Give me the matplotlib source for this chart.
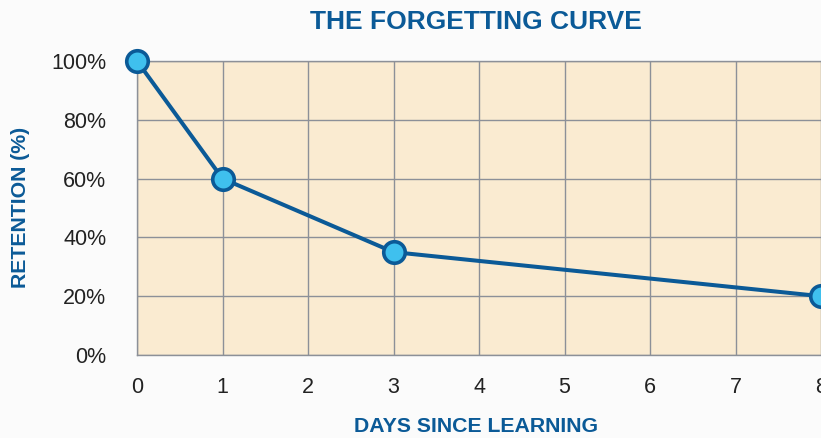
import matplotlib
matplotlib.use("Agg")
import matplotlib.pyplot as plt

days = [0, 1, 3, 8]
retention = [100, 60, 35, 20]
x_ticks = [0, 1, 2, 3, 4, 5, 6, 7, 8]
y_ticks = [0, 20, 40, 60, 80, 100]
y_labels = [f"{v}%" for v in y_ticks]

BLUE = "#0b5a97"
LIGHT = "#3fc0ee"
GRID = "#8c9098"

plt.rcParams["font.family"] = ["Liberation Sans", "DejaVu Sans"]

fig = plt.figure(figsize=(8.21, 4.38), dpi=100)
fig.patch.set_facecolor("#fbfbfb")
ax = fig.add_axes([137 / 821, 83 / 438, 1 - 137 / 821, 294 / 438])
ax.set_facecolor("#faebd1")

ax.plot(days, retention, color=BLUE, lw=2.9, marker="o", ms=15.5,
        mfc=LIGHT, mec=BLUE, mew=2.6, zorder=5, clip_on=False)

ax.set_xlim(0, 8)
ax.set_ylim(0, 100)
ax.set_xticks(x_ticks)
ax.set_yticks(y_ticks)
ax.set_yticklabels(y_labels)
ax.tick_params(length=0, labelsize=15.5, labelcolor="#222222")
ax.tick_params(axis="x", pad=16)
ax.tick_params(axis="y", pad=22)
ax.grid(True, color=GRID, lw=1.0)
ax.set_axisbelow(True)
for side in ["left", "top", "bottom"]:
    ax.spines[side].set_color(GRID)
    ax.spines[side].set_linewidth(1.0)
ax.spines["right"].set_visible(False)

fig.text(476 / 821, 1 - 22 / 438, "THE FORGETTING CURVE", ha="center", va="center",
         fontsize=19, fontweight="bold", color=BLUE)
fig.text(476 / 821, 1 - 427 / 438, "DAYS SINCE LEARNING", ha="center", va="center",
         fontsize=15.3, fontweight="bold", color=BLUE)
fig.text(21 / 821, 1 - 207 / 438, "RETENTION (%)", ha="center", va="center",
         rotation=90, fontsize=15.3, fontweight="bold", color=BLUE)

fig.savefig("out.png", dpi=100, facecolor=fig.get_facecolor())
